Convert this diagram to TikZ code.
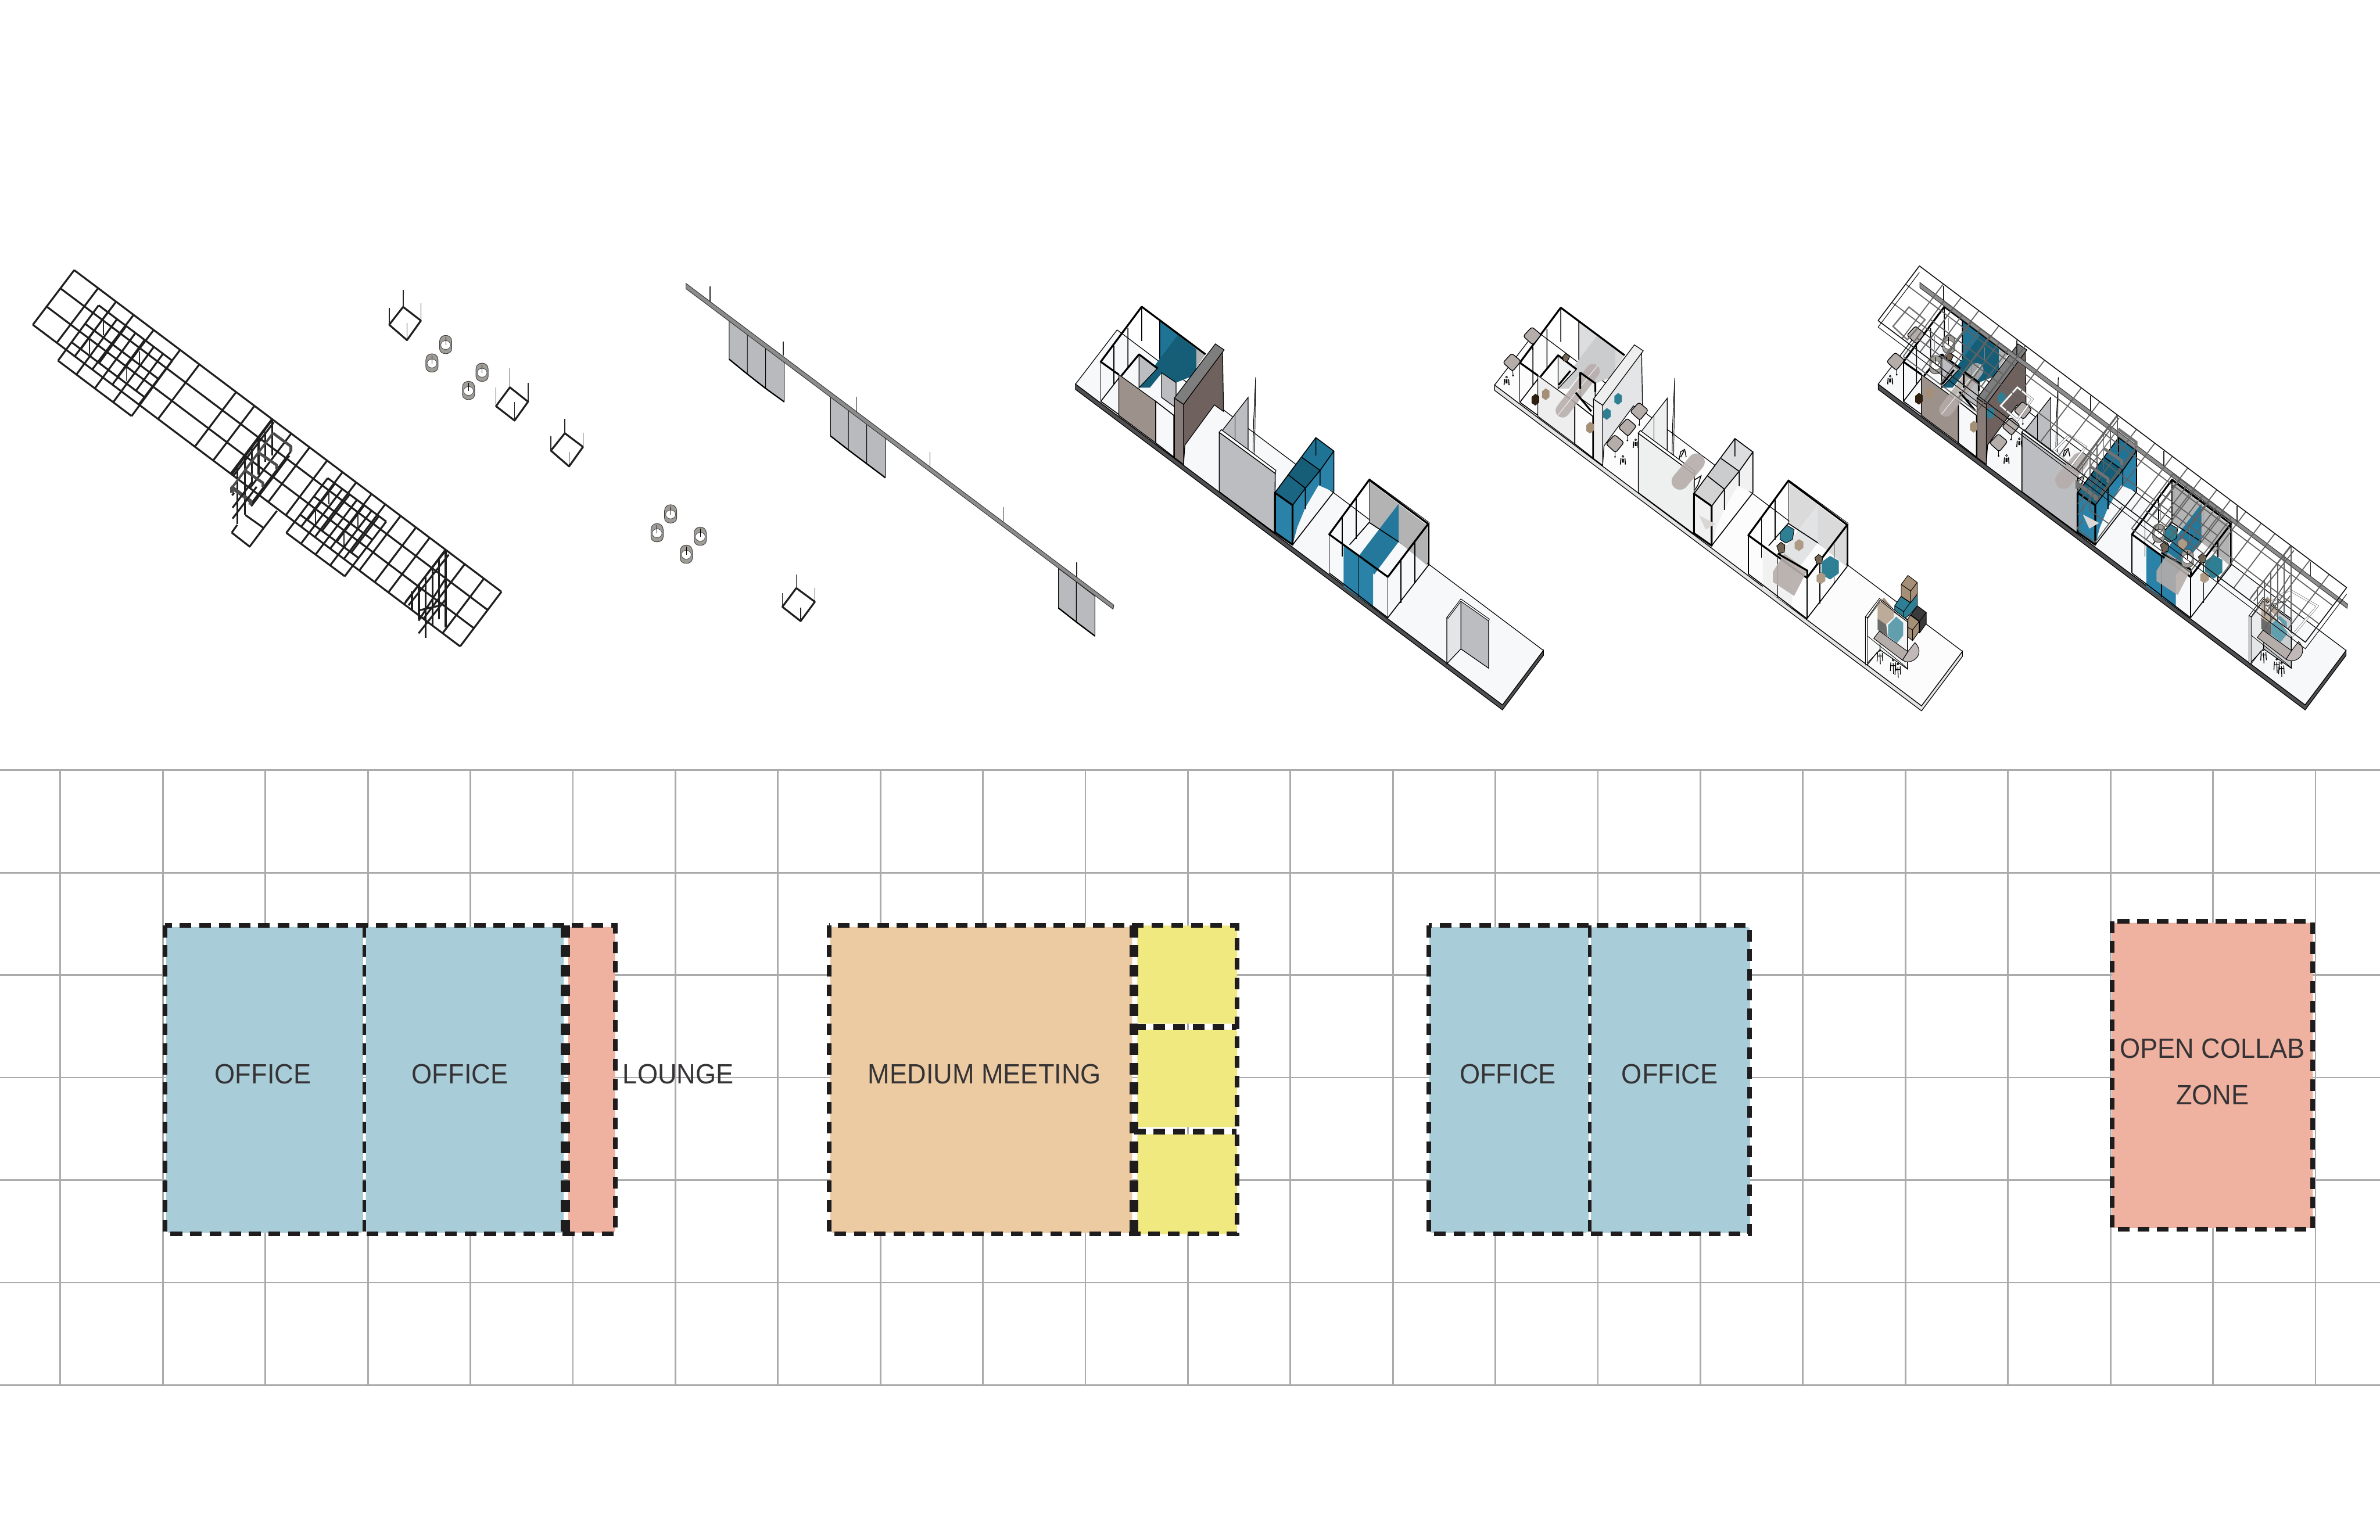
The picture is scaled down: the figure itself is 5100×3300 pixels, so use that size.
\documentclass[tikz,border=0pt]{standalone}
\usepackage{fontspec}
\setmainfont[FakeStretch=.94]{Liberation Sans}
\definecolor{officeC}{HTML}{A9CDD8}
\definecolor{pinkC}{HTML}{EFB1A0}
\definecolor{peachC}{HTML}{ECCAA2}
\definecolor{yellowC}{HTML}{EFE97F}
\definecolor{inkC}{HTML}{1F1C1E}
\definecolor{gridC}{HTML}{ABABAB}
\definecolor{furnC}{HTML}{B5ADAA}
\definecolor{tanC}{HTML}{A68F77}
\definecolor{tealK}{HTML}{2E7F94}
\definecolor{coalC}{HTML}{3A3A3C}
\definecolor{cylC}{HTML}{A09C98}
\definecolor{panelC}{HTML}{B8BABD}
\tikzset{
  gridline/.style={draw=gridC,line width=.035cm},
  zonefill/.style={rounded corners=1.5pt},
  dashbox/.style={draw=inkC,line width=.1cm,dash pattern=on .25cm off .17cm},
  dashthin/.style={draw=inkC,line width=.075cm,dash pattern=on .25cm off .17cm},
  zonetext/.style={font=\fontsize{17}{20}\selectfont,text=inkC!90,inner sep=0pt},
  wire/.style={draw=black!88,line width=.04cm,line join=round},
  hang/.style={draw=black!85,line width=.02cm},
  band/.style={draw=black!70,line width=.05cm,line join=round},
  thickl/.style={draw=black,line width=.04cm,line join=round},
  glass/.style={draw=black,line width=.02cm},
  hair/.style={draw=black,line width=.012cm}
}
\newif\ifStackShown
% cylinder, full-size pixel coordinates
\newcommand{\CylA}[2]{
  \filldraw[fill=cylC,draw=black!75,line width=.012cm]
    ({#1-13},{#2-7})--({#1-13},{#2+9}) .. controls ({#1-13},{#2+23}) and ({#1+13},{#2+23}) .. ({#1+13},{#2+9})
    --({#1+13},{#2-7}) .. controls ({#1+13},{#2-24}) and ({#1-13},{#2-24}) .. cycle;
  \filldraw[fill=white,draw=black!70,line width=.01cm] (#1,{#2+1}) circle [x radius=.105cm,y radius=.095cm];
  \draw[hair] (#1,{#2-16})--(#1,{#2+1});
}
\newcommand{\HCube}[9]{% four corners, then hanger length
  \draw[wire] (#1,#2)--(#3,#4)--(#5,#6)--(#7,#8)--cycle;
  \draw[hang] (#1,#2)--(#1,{#2-#9}) (#3,#4)--(#3,{#4-#9}) (#7,#8)--(#7,{#8-#9}) (#5,#6)--(#5,{#6-#9});
}
\newcommand{\StoolA}[2]{
  \draw[black,line width=.02cm] ({#1-13},{#2+12})--({#1-16},{#2+52}) ({#1+13},{#2+12})--({#1+16},{#2+52}) ({#1-3},{#2+15})--({#1-3},{#2+40}) ({#1+3},{#2+15})--({#1+3},{#2+40});
  \filldraw[fill=white,draw=black,line width=.012cm] (#1,#2) circle [radius=.06cm];
}
\newcommand{\TblA}[4]{
  \draw[black,line width=.012cm] (#1,#2)--(#3,#4);
  \filldraw[fill=furnC,draw=black,line width=.016cm,rounded corners=1.3pt] ({#1-58},{#2+2})--({#1-2},{#2-58})--({#1+58},{#2-8})--({#1+4},{#2+58})--cycle;
  \filldraw[fill=black!55,draw=black,line width=.012cm] (#3,#4) circle [radius=.035cm];
}
\newcommand{\HexA}[4]{
  \fill[#3,shift={(#1,#2)},scale=#4] (0,-38)--(24,-22)--(24,18)--(0,38)--(-24,22)--(-24,-18)--cycle;
}
% ceiling grid; local to the panel's own coordinates
\newcommand{\GridPanel}{
  \begin{scope}[shift={(159,579)},x={(9.15cm,-6.89cm)},y={(-.885cm,-1.17cm)}]
    \foreach \t in {0,.056,.098,.139,.186,.248,.293,.379,.422,.463,.508,.551,.592,.628,.66,.696,.728,.764,.80,.832,.869,.914,.959,1}{\draw[wire] (\t,0)--(\t,1);}
    \foreach \v in {0,.3333,.6667,1}{\draw[wire] (0,\v)--(1,\v);}
  \end{scope}
  \begin{scope}[shift={(211.4,654.3)},x={(1.576cm,-1.187cm)},y={(-.87cm,-1.187cm)}]
    \foreach \t in {0,.25,.5,.75,1}{\draw[wire] (\t,0)--(\t,1);}
    \foreach \t in {.125,.375,.625,.875}{\draw[wire] (\t,0)--(\t,.6667);}
    \foreach \v in {0,.3333,.6667,1}{\draw[wire] (0,\v)--(1,\v);}
  \end{scope}
  \begin{scope}[shift={(702.3,1024.8)},x={(1.252cm,-.93cm)},y={(-.887cm,-1.172cm)}]
    \foreach \t in {0,.25,.5,.75,1}{\draw[wire] (\t,0)--(\t,1);}
    \foreach \t in {.125,.375,.625,.875}{\draw[wire] (\t,0)--(\t,.6667);}
    \foreach \v in {0,.3333,.6667,1}{\draw[wire] (0,\v)--(1,\v);}
  \end{scope}
  \draw[hang] (222,690)--(222,718) (192,729)--(192,758) (298.5,753)--(298.5,780) (271,788)--(271,817);
  \draw[hang] (705,1052)--(705,1081) (676,1092)--(676,1122) (767,1103)--(767,1133) (737,1140)--(737,1169);
  % first shelf frame
  \begin{scope}[shift={(400,880)},scale=.3333]
    \foreach \xx/\ya/\yb in {550/60/290,505/135/330,462/180/410,418/245/470,375/300/670,327/370/730}{\draw[wire] (\xx,\ya)--(\xx,\yb);}
    \draw[wire] (550,60)--(290,410) (560,75)--(300,420);
    \draw[wire] (670,262)--(410,605) (660,290)--(415,615);
    \draw[band] (555,145)--(292,495);
    \draw[band,line width=.06cm] (555,145)--(670,230)--(670,262);
    \draw[band,line width=.06cm] (462,270)--(578,350)--(578,375);
    \draw[band,line width=.06cm] (375,385)--(490,465)--(490,490);
    \draw[band,line width=.08cm] (292,530)--(292,495)--(410,582)--(410,605);
    \draw[wire] (295,625)--(420,460) (295,695)--(450,490) (292,545)--(305,530);
    \draw[wire] (290,785)--(405,875)--(495,755)--(378,672) (290,785)--(325,735) (495,755)--(580,645);
  \end{scope}
  % second shelf frame
  \begin{scope}[xscale=.829,yscale=.7334,shift={(0,709)}]
    \foreach \xx/\ya/\yb in {1152/900/1125,1135/925/1100,1118/950/1120,1100/975/1155,1083/1000/1100,1065/1020/1075}{\draw[wire] (\xx,\ya)--(\xx,\yb);}
    \draw[wire] (1152,900)--(1048,1050) (1160,912)--(1056,1060);
    \draw[wire] (1150,1045)--(1082,1142) (1150,985)--(1082,1105) (1140,1060)--(1082,1075);
  \end{scope}
}
\newcommand{\BeamOnly}{
  \filldraw[fill=black!45,draw=black!80,line width=.012cm] (222,137)--(222,155)--(1418,1232)--(1420,1218)--cycle;
  \draw[hang] (289,148)--(289,197) (494,332)--(494,380) (700,518)--(700,570) (905,703)--(905,753) (1110,889)--(1110,940) (1316,1075)--(1316,1125);
}
\newcommand{\RoomsPanel}{
  % slab
  \filldraw[fill=slabC,draw=black,line width=.015cm] (78,350)--(1382,1428)--(1507,1245)--(1507,1262)--(1382,1445)--(78,368)--cycle;
  \filldraw[fill=floorC,draw=black,line width=.015cm] (78,350)--(205,168)--(1507,1245)--(1382,1428)--cycle;
  % room 1
  \fill[tealD] (335,137)--(447,232)--(447,318)--(385,345)--(342,312)--(305,362)--(272,362)--(335,265)--cycle;
  \fill[tealM] (335,137)--(390,185)--(335,265)--cycle;
  \fill[grayB] (447,228)--(475,250)--(447,295)--cycle;
  \filldraw[fill=grayW,draw=black,line width=.015cm] (272,252)--(328,297)--(272,362)--cycle;
  \filldraw[fill=grayW,draw=black,line width=.015cm] (341,312)--(385,345)--(385,430)--(341,395)--cycle;
  \draw[thickl] (218,322)--(272,250)--(328,297);
  \draw[glass] (195,222)--(195,350) (238,162)--(238,295) (280,90)--(280,205) (335,137)--(335,265) (155,408)--(210,330);
  \draw[thickl] (210,318)--(155,275)--(280,90)--(475,250);
  \draw[glass] (155,275)--(155,408);
  \draw[glass] (155,408)--(210,452);
  \filldraw[fill=woodA,draw=black,line width=.015cm] (210,318)--(323,408)--(323,548)--(210,455)--cycle;
  \filldraw[fill=floorC,draw=black,line width=.02cm] (323,408)--(378,455)--(378,595)--(323,548)--cycle;
  % big wall
  \filldraw[fill=woodB,draw=black,line width=.015cm] (408,418)--(527,238)--(530,442)--(502,420)--(412,555)--(408,620)--cycle;
  \filldraw[fill=woodC,draw=black,line width=.015cm] (380,397)--(408,418)--(408,620)--(380,597)--cycle;
  \filldraw[fill=capC,draw=black,line width=.015cm] (380,397)--(505,215)--(532,235)--(408,418)--cycle;
  % room 2
  \draw[hair] (628,327)--(622,475)--(620,585) (628,327)--(625,585);
  \filldraw[fill=grayW,draw=black,line width=.015cm] (527,505)--(605,395)--(605,578)--(527,515)--cycle;
  \draw[hair] (565,450)--(565,545);
  \filldraw[fill=grayW,draw=black,line width=.02cm] (517,512)--(688,650)--(686,850)--(517,712)--cycle;
  \filldraw[fill=white,draw=black,line width=.015cm] (517,512)--(523,503)--(690,640)--(688,650)--cycle;
  % teal boxes
  \fill[tealF] (687,715)--(812,530)--(867,575)--(867,712)--(820,690)--(780,765)--(755,832)--(741,890)--(687,848)--cycle;
  \fill[tealM] (770,597)--(812,530)--(867,575)--(825,640)--cycle;
  \fill[tealD] (728,655)--(770,597)--(825,640)--(780,700)--cycle;
  \fill[tealD!80!tealF] (687,715)--(728,655)--(780,700)--(741,757)--cycle;
  \draw[thickl] (687,715)--(741,757)--(741,890)--(687,848)--cycle;
  \draw[glass] (741,757)--(780,700)--(825,640)--(867,575)--(812,530)--(687,715);
  \draw[glass] (728,655)--(780,700)--(780,770) (770,597)--(825,640)--(825,690) (812,530)--(812,590) (867,575)--(867,712);
  \draw[glass] (741,890)--(867,712);
  % room 3
  \fill[grayB] (978,680)--(1152,825)--(1152,960)--(1065,880)--(978,815)--cycle;
  \fill[tealM!70!tealF] (945,925)--(1065,752)--(1065,880)--(990,990)--cycle;
  \draw[glass] (915,890)--(975,815)--(1065,880);
  \fill[tealF] (897,893)--(987,967)--(987,1100)--(897,1030)--cycle;
  \draw[glass] (943,930)--(943,1067);
  \draw[glass] (893,795)--(893,930) (935,735)--(935,870) (1115,875)--(1115,1020) (1072,940)--(1072,1085);
  \draw[hair] (975,668)--(1158,815)--(1158,960);
  \draw[thickl] (853,855)--(975,672)--(1155,820)--(1032,998)--cycle;
  \draw[glass] (853,855)--(853,985) (975,672)--(975,815) (1155,820)--(1155,960) (1032,998)--(1032,1135);
  \draw[glass] (853,985)--(1032,1135)--(1155,960);
  % end wall
  \filldraw[fill=grayW,draw=black,line width=.015cm] (1255,1075)--(1340,1145)--(1340,1305)--(1255,1240)--cycle;
  \filldraw[fill=grayW!40!white,draw=black,line width=.015cm] (1212,1135)--(1255,1075)--(1255,1240)--(1212,1290)--cycle;
  \filldraw[fill=white,draw=black,line width=.012cm] (1212,1135)--(1255,1072)--(1342,1140)--(1340,1146)--(1255,1080)--(1216,1137)--cycle;
}
\newcommand{\FurnPanel}{
  \begin{scope}[shift={(3180,640)},scale=.3333]
    \TblA{310}{240}{313}{325}
    \TblA{180}{410}{187}{495}
    \TblA{998}{725}{998}{812}
    \TblA{922}{828}{922}{912}
    \TblA{842}{933}{842}{1018}
    \StoolA{145}{505}
    \StoolA{893}{1015}
    \StoolA{975}{908}
    \HexA{330}{650}{black!75!brown}{1}
    \HexA{397}{615}{tanC}{1}
    \HexA{862}{645}{tealK}{1}
    \HexA{790}{742}{tealK}{1}
    \HexA{682}{830}{tanC}{1}
    \filldraw[fill=tanC!70!black,draw=black,line width=.012cm] (505,375)--(525,352)--(552,372)--(535,405)--(510,400)--cycle;
    \draw[furnC,line width=.3cm,line cap=round,opacity=.85] (505,720)--(700,465);
    \draw[white,line width=.01cm] (475,750)--(730,430);
    \draw[furnC,line width=.36cm,line cap=round,opacity=.9] (1365,1050)--(1260,1175);
    \draw[black,line width=.018cm] (1255,1030)--(1265,985)--(1290,970)--(1300,1020) (1265,1020)--(1285,980);
    \draw[thickl] (618,475)--(715,545)--(715,600) (618,475)--(618,580);
    \draw[thickl] (480,555)--(555,465) (590,605)--(690,725);
    \draw[black,line width=.018cm] (1355,1165)--(1395,1140)--(1375,1200)--(1355,1230);
  \end{scope}
  \begin{scope}[shift={(3150,620)},xscale=.7015,yscale=.6059]
    \filldraw[fill=tealK,draw=black,line width=.012cm] (948,860)--(968,835)--(990,850)--(985,885)--(965,898)--(947,885)--cycle;
    \filldraw[fill=tanC!70!black,draw=black,line width=.012cm] (937,908)--(950,895)--(962,905)--(960,930)--(945,935)--cycle;
    \filldraw[fill=tanC!70!black,draw=black,line width=.012cm] (1053,950)--(1065,938)--(1077,948)--(1075,970)--(1060,972)--cycle;
    \HexA{1005}{905}{tanC!90!white}{.55}
    \HexA{1100}{985}{tealK}{1.1}
    \HexA{1072}{1022}{tanC!90!white}{.55}
    \fill[furnC,opacity=.9] (925,1000)--(960,935)--(1030,995)--(990,1085)--(925,1035)--cycle;
    \draw[thickl] (940,935)--(1030,995)--(1030,1015);
    \fill[furnC!50!white] (700,800)--(750,830)--(720,850)--cycle;
  \end{scope}
  \begin{scope}[shift={(3950,1150)},scale=.3333]
    \ifStackShown
    \filldraw[fill=coalC,draw=black,line width=.012cm] (475,445)--(533,488)--(533,560)--(490,620)--(435,580)--(435,505)--cycle;
    \draw[hair] (435,505)--(490,545)--(533,488) (490,545)--(490,620);
    \filldraw[fill=tealK,draw=black,line width=.012cm] (370,385)--(430,425)--(475,370)--(475,445)--(430,500)--(390,530)--(330,480)--(330,445)--cycle;
    \draw[hair] (330,445)--(388,483)--(430,425) (388,483)--(388,530);
    \filldraw[fill=tanC,draw=black,line width=.012cm] (415,250)--(475,295)--(475,370)--(433,425)--(372,385)--(372,308)--cycle;
    \draw[hair] (372,308)--(433,350)--(475,295) (433,350)--(433,425);
    \filldraw[fill=tanC,draw=black,line width=.012cm] (430,505)--(487,547)--(487,610)--(445,670)--(415,645)--(415,530)--cycle;
    \draw[hair] (415,585)--(445,600)--(487,547) (445,600)--(445,670);
    \fi
    \fill[coalC] (220,527)--(275,565)--(285,640)--(220,600)--cycle;
    \fill[tanC] (220,450)--(260,392)--(325,470)--(325,520)--(275,565)--(220,527)--cycle;
    \fill[tealK] (287,570)--(340,515)--(385,555)--(385,635)--(345,685)--(287,640)--cycle;
    \filldraw[fill=white,draw=black,line width=.01cm,fill opacity=.25] (155,522)--(235,410)--(412,545)--(412,850)--(380,820)--(155,640)--cycle;
    \filldraw[fill=furnC!85!white,draw=black,line width=.012cm] (380,795) .. controls (420,825) and (490,790) .. (487,735) .. controls (485,715) and (475,695) .. (460,682)--(415,740)--cycle;
    \filldraw[fill=furnC,draw=black,line width=.012cm] (195,655)--(232,608)--(415,740)--(380,795)--cycle;
    \filldraw[fill=white,draw=black,line width=.012cm] (142,515)--(232,398)--(415,540)--(412,548)--(235,410)--(155,522)--cycle;
    \filldraw[fill=white,draw=black,line width=.012cm] (142,515)--(155,522)--(155,825)--(142,820)--cycle;
    \draw[hair] (155,825)--(220,740);
    \foreach \sx/\sy in {235/733,320/795,350/820}{
      \draw[black,line width=.016cm] ({\sx-15},{\sy+15})--({\sx-18},{\sy+70}) ({\sx},{\sy+20})--({\sx+3},{\sy+88}) ({\sx+15},{\sy+15})--({\sx+18},{\sy+68}) ({\sx-14},{\sy+35})--({\sx+14},{\sy+35});
      \filldraw[fill=black!35,draw=black,line width=.012cm] (\sx,\sy) circle [radius=.06cm];
    }
  \end{scope}
}
\begin{document}
\begin{tikzpicture}[x=.01cm,y=-.01cm]
\useasboundingbox (0,0) rectangle (5100,3300);
\fill[white] (0,0) rectangle (5100,3300);

% ---- panel 1: ceiling grid and hanging fittings
\GridPanel
\begin{scope}[shift={(0,520)},xscale=.829,yscale=.7334]
  \HCube{1042}{188}{1088}{228}{1052}{285}{1006}{240}{50}
  \HCube{1318}{423}{1365}{465}{1330}{520}{1282}{478}{55}
  \HCube{1460}{557}{1507}{597}{1471}{654}{1424}{608}{42}
\end{scope}
\CylA{955}{738.6}
\CylA{925.6}{778}
\CylA{1033}{798}
\CylA{1004}{837}

% ---- panel 2: beam, hanging panels
\begin{scope}[shift={(1300,520)},xscale=.7653,yscale=.6378]
  \foreach \a/\b/\c/\d/\e/\f in {343/262/394/306/392/442,394/306/445/352/442/490,445/352/497/395/490/535,627/515/677/560/650/697,677/560/728/608/697/743,728/608/780/655/743/790,1265/1095/1315/1140/1228/1275,1315/1140/1367/1188/1275/1322}{
    \filldraw[fill=panelC,draw=black,line width=.012cm] (\a,\b)--(\c,\d)--(\c,\f)--(\a,\e)--cycle;
    \draw[black,line width=.028cm] (\a,\e)--(\c,\f);
  }
  \BeamOnly
  \HCube{531}{1161}{583}{1207}{543}{1272}{492}{1224}{46}
\end{scope}
\CylA{1437}{1101.6}
\CylA{1408}{1142}
\CylA{1500.5}{1149.5}
\CylA{1470.6}{1188}

% ---- panel 3: walls
\begin{scope}
  \definecolor{tealD}{HTML}{165E78}\definecolor{tealM}{HTML}{1F7496}\definecolor{tealF}{HTML}{2B82A8}
  \definecolor{woodA}{HTML}{9D928B}\definecolor{woodB}{HTML}{6F625E}\definecolor{woodC}{HTML}{877C77}
  \definecolor{capC}{HTML}{7E7E7E}\definecolor{grayW}{HTML}{BBBDC0}\definecolor{grayB}{HTML}{B3B3B3}
  \definecolor{slabC}{HTML}{505052}\definecolor{floorC}{HTML}{F7F8F9}
  \begin{scope}[shift={(2250,600)},xscale=.7015,yscale=.6378]
    \RoomsPanel
  \end{scope}
\end{scope}

% ---- panel 4: furniture
\begin{scope}
  \definecolor{tealD}{HTML}{CBCCCD}\definecolor{tealM}{HTML}{DCDDDE}\definecolor{tealF}{HTML}{F1F1F1}
  \definecolor{woodA}{HTML}{EEEEEE}\definecolor{woodB}{HTML}{E4E5E6}\definecolor{woodC}{HTML}{EEEEEE}
  \definecolor{capC}{HTML}{EEEEEE}\definecolor{grayW}{HTML}{EEEFEF}\definecolor{grayB}{HTML}{DADADA}
  \definecolor{slabC}{HTML}{E4E4E4}\definecolor{floorC}{HTML}{FCFCFC}
  \begin{scope}[shift={(898,2)}]
    \begin{scope}[shift={(2250,600)},xscale=.7015,yscale=.6378]
      \RoomsPanel
    \end{scope}
  \end{scope}
  \StackShowntrue
  \FurnPanel
  \StackShownfalse
\end{scope}

% ---- panel 5: everything together
\begin{scope}
  \definecolor{tealD}{HTML}{165E78}\definecolor{tealM}{HTML}{1F7496}\definecolor{tealF}{HTML}{2B82A8}
  \definecolor{woodA}{HTML}{9D928B}\definecolor{woodB}{HTML}{6F625E}\definecolor{woodC}{HTML}{877C77}
  \definecolor{capC}{HTML}{7E7E7E}\definecolor{grayW}{HTML}{BBBDC0}\definecolor{grayB}{HTML}{B3B3B3}
  \definecolor{slabC}{HTML}{505052}\definecolor{floorC}{HTML}{F7F8F9}
  \begin{scope}[shift={(1720,0)}]
    \begin{scope}[shift={(2250,600)},xscale=.7015,yscale=.6378]
      \RoomsPanel
    \end{scope}
  \end{scope}
  \begin{scope}[shift={(822,-2)}]
    \FurnPanel
  \end{scope}
  \begin{scope}[shift={(2644,-2)}]
    \begin{scope}[shift={(1300,520)},xscale=.7653,yscale=.6378]
      \BeamOnly
    \end{scope}
  \end{scope}
  \begin{scope}[shift={(3980,540)},xscale=.7143,yscale=.6378]
    \draw[black!55,line width=.03cm] (155,185)--(203,228)--(150,295)--(107,250)--cycle;
    \foreach \a/\b/\c/\d/\e/\f/\g/\h in {480/455/525/495/480/565/430/517,635/617/685/655/640/720/590/667,1295/1135/1380/1190/1305/1290/1225/1190}{
      \draw[black!50,line width=.05cm] (\a,\b)--(\c,\d)--(\e,\f)--(\g,\h)--cycle;
      \draw[white,line width=.03cm] (\a,\b)--(\c,\d)--(\e,\f)--(\g,\h)--cycle;
    }
  \end{scope}
  \CylA{4176}{738}
  \CylA{4148}{782}
  \CylA{4626}{1143}
  \CylA{4687}{1197}
  \begin{scope}[shift={(3954,-9)},wire/.style={draw=black!62,line width=.022cm},hang/.style={draw=black!50,line width=.012cm},band/.style={draw=black!55,line width=.022cm}]
    \GridPanel
    \begin{scope}[shift={(159,579)},x={(9.15cm,-6.89cm)},y={(-.885cm,-1.17cm)}]
      \draw[hair] (0,0)--(1,0)--(1,1)--(0,1)--cycle;
    \end{scope}
    \begin{scope}[shift={(159,593)},x={(9.15cm,-6.89cm)},y={(-.885cm,-1.17cm)}]
      \draw[hair] (1,0)--(1,1)--(0,1)--(0,0);
    \end{scope}
  \end{scope}
\end{scope}

% ---- plan strip
\foreach \k in {-1,...,21}{\draw[gridline] ({349+219.65*\k},1650.6)--({349+219.65*\k},2968.8);}
\foreach \j in {-3,...,3}{\draw[gridline] (0,{2309.7+219.7*\j})--(5100,{2309.7+219.7*\j});}

% zones
\fill[officeC,zonefill] (356,1987) rectangle (778,2642);
\fill[officeC,zonefill] (784,1987) rectangle (1208,2642);
\fill[pinkC,zonefill] (1218,1987) rectangle (1318,2642);
\draw[dashbox] (354,1984) rectangle (1318,2645);
\draw[dashthin] (781,1984)--(781,2645);
\draw[dashbox] (1207,1984)--(1207,2645);
\draw[dashbox] (1217,1984)--(1217,2645);

\fill[peachC,zonefill] (1779,1987) rectangle (2426,2642);
\fill[yellowC,zonefill] (2437,1984) rectangle (2651,2194);
\fill[yellowC,zonefill] (2437,2207) rectangle (2651,2416);
\fill[yellowC,zonefill] (2437,2431) rectangle (2651,2645);
\draw[dashbox] (1777,1984) rectangle (2650.6,2645);
\draw[dashbox] (2425,1984)--(2425,2645);
\draw[dashbox] (2434,1984)--(2434,2645);
\draw[dashbox,line width=.13cm] (2430,2201)--(2650,2201);
\draw[dashbox,line width=.13cm] (2430,2425.5)--(2650,2425.5);

\fill[officeC,zonefill] (3063,1987) rectangle (3404,2642);
\fill[officeC,zonefill] (3409,1987) rectangle (3750,2642);
\draw[dashbox] (3062,1984) rectangle (3749,2645);
\draw[dashthin] (3406.6,1984)--(3406.6,2645);

\fill[pinkC,zonefill] (4526,1978) rectangle (4956,2632);
\draw[dashbox] (4525.5,1975) rectangle (4956,2634.7);

\node[zonetext] (lblA) at (563.5,2302) {OFFICE};
\node[zonetext] (lblB) at (985.6,2302) {OFFICE};
\node[zonetext,anchor=west] (lblC) at (1334,2302) {LOUNGE};
\node[zonetext] (lblD) at (2109.6,2302) {MEDIUM MEETING};
\node[zonetext] (lblE) at (3231,2302) {OFFICE};
\node[zonetext] (lblF) at (3578,2302) {OFFICE};
\node[zonetext] (lblG) at (4741,2247) {OPEN COLLAB};
\node[zonetext] (lblH) at (4741,2347) {ZONE};
\end{tikzpicture}
\end{document}
